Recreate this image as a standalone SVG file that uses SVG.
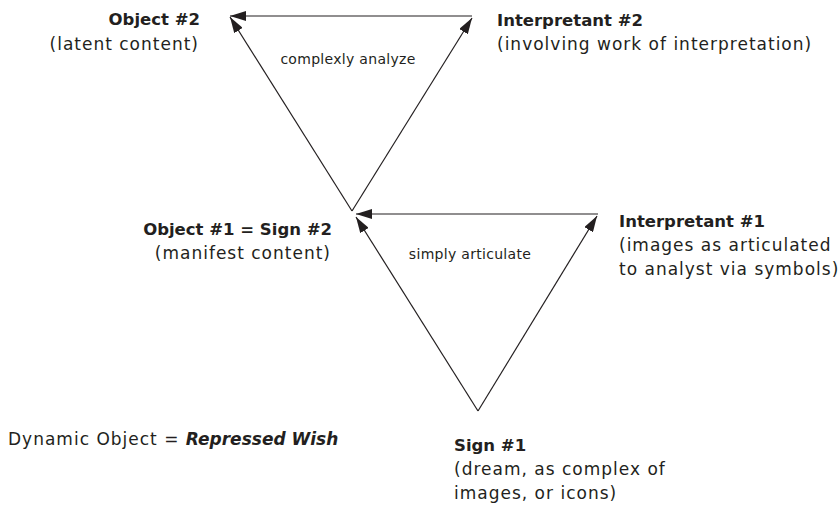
<svg xmlns="http://www.w3.org/2000/svg" width="838" height="505" viewBox="0 0 838 505">
  <style>
    text { font-family: "DejaVu Sans", "Liberation Sans", sans-serif; fill: #231f20; }
    .title { font-size: 16.5px; font-weight: bold; }
    .sub { font-size: 17px; letter-spacing: 1px; }
    .edge-label { font-size: 14px; letter-spacing: 0.3px; }
    .edge { stroke: #231f20; stroke-width: 1.2; fill: none; marker-end: url(#head); }
  </style>
  <defs>
    <marker id="head" viewBox="0 0 16 10" refX="16" refY="5" markerWidth="16" markerHeight="10" markerUnits="userSpaceOnUse" orient="auto">
      <path d="M0,0 L16,5 L0,10 Z" fill="#231f20"/>
    </marker>
  </defs>

  <g id="connectors">
    <!-- upper triangle -->
    <line class="edge" x1="472" y1="16" x2="230" y2="16"/>
    <line class="edge" x1="352" y1="211" x2="230" y2="17"/>
    <line class="edge" x1="352" y1="211" x2="472" y2="18"/>
    <!-- lower triangle -->
    <line class="edge" x1="598" y1="214" x2="356" y2="214"/>
    <line class="edge" x1="478" y1="411" x2="356" y2="217"/>
    <line class="edge" x1="478" y1="411" x2="597" y2="216"/>
    <text class="edge-label" x="348" y="64" text-anchor="middle">complexly analyze</text>
    <text class="edge-label" x="470" y="259" text-anchor="middle">simply articulate</text>
  </g>

  <g id="object2">
    <text class="title" x="200" y="25" text-anchor="end">Object #2</text>
    <text class="sub" x="199" y="50" text-anchor="end">(latent content)</text>
  </g>

  <g id="interpretant2">
    <text class="title" x="497" y="26">Interpretant #2</text>
    <text class="sub" x="497" y="50">(involving work of interpretation)</text>
  </g>

  <g id="object1-sign2">
    <text class="title" x="332" y="235" text-anchor="end">Object #1 = Sign #2</text>
    <text class="sub" x="331" y="259" text-anchor="end">(manifest content)</text>
  </g>

  <g id="interpretant1">
    <text class="title" x="619" y="227">Interpretant #1</text>
    <text class="sub" x="619" y="251">(images as articulated</text>
    <text class="sub" x="619" y="275">to analyst via symbols)</text>
  </g>

  <g id="sign1">
    <text class="title" x="454" y="451">Sign #1</text>
    <text class="sub" x="454" y="475">(dream, as complex of</text>
    <text class="sub" x="454" y="499">images, or icons)</text>
  </g>

  <g id="dynamic-object">
    <text class="sub" x="8" y="445">Dynamic Object = <tspan font-weight="bold" font-style="italic" letter-spacing="0">Repressed Wish</tspan></text>
  </g>
</svg>
